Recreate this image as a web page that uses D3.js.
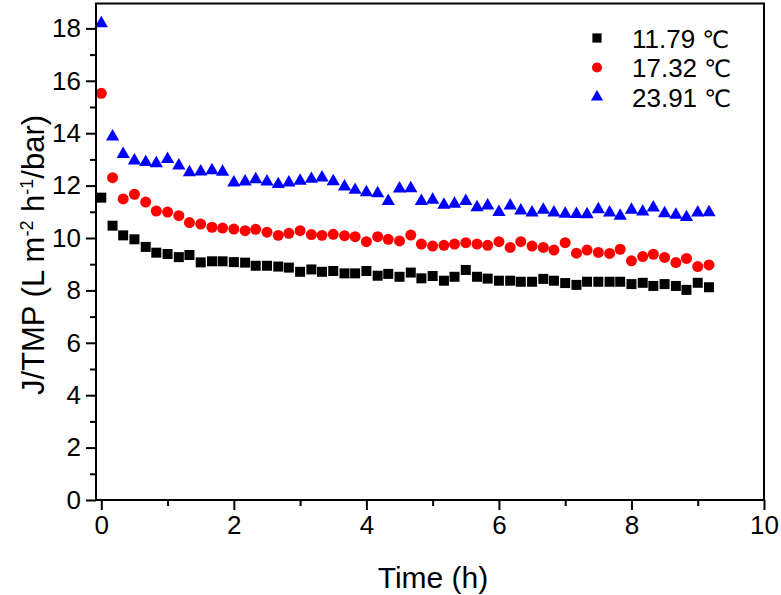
<!DOCTYPE html>
<html>
<head>
<meta charset="utf-8">
<script src="https://cdn.jsdelivr.net/npm/d3@7"></script>
<style>
  html, body { margin: 0; padding: 0; background: #fff; }
  svg { display: block; }
  text { font-family: "Liberation Sans", Arial, sans-serif; fill: #000; }
</style>
</head>
<body>
<svg id="chart" width="781" height="595"></svg>
<script>
// ---- data ----
const times = [0, 0.17, 0.33, 0.5, 0.67, 0.83, 1, 1.17, 1.33, 1.5, 1.67, 1.83, 2, 2.17, 2.33, 2.5, 2.67, 2.83,
  3, 3.17, 3.33, 3.5, 3.67, 3.83, 4, 4.17, 4.33, 4.5, 4.67, 4.83, 5, 5.17, 5.33, 5.5, 5.67, 5.83,
  6, 6.17, 6.33, 6.5, 6.67, 6.83, 7, 7.17, 7.33, 7.5, 7.67, 7.83, 8, 8.17, 8.33, 8.5, 8.67, 8.83, 9, 9.17];
const series1179 = [11.54, 10.47, 10.10, 9.95, 9.66, 9.44, 9.39, 9.27, 9.35, 9.07, 9.11, 9.11, 9.08, 9.06, 8.94, 8.94,
  8.91, 8.87, 8.71, 8.80, 8.71, 8.74, 8.65, 8.65, 8.74, 8.56, 8.63, 8.52, 8.68, 8.46, 8.55, 8.37, 8.52, 8.78,
  8.52, 8.45, 8.37, 8.37, 8.33, 8.33, 8.44, 8.37, 8.28, 8.21, 8.33, 8.33, 8.33, 8.33, 8.24, 8.29, 8.17, 8.24,
  8.17, 8.02, 8.29, 8.12];
const series1732 = [15.52, 12.30, 11.49, 11.67, 11.37, 11.03, 10.99, 10.85, 10.59, 10.53, 10.41, 10.38, 10.34, 10.28,
  10.33, 10.22, 10.10, 10.18, 10.28, 10.13, 10.10, 10.14, 10.09, 10.05, 9.86, 10.05, 9.95, 9.89, 10.11, 9.77,
  9.69, 9.72, 9.77, 9.82, 9.77, 9.72, 9.86, 9.64, 9.86, 9.69, 9.64, 9.54, 9.82, 9.42, 9.54, 9.45, 9.41, 9.57,
  9.13, 9.29, 9.38, 9.26, 9.06, 9.22, 8.91, 8.97];
const series2391 = [18.19, 13.87, 13.20, 12.95, 12.89, 12.85, 13.01, 12.76, 12.50, 12.53, 12.58, 12.52, 12.11, 12.15,
  12.24, 12.15, 12.05, 12.11, 12.18, 12.25, 12.30, 12.16, 11.96, 11.83, 11.74, 11.70, 11.41, 11.88, 11.89, 11.41,
  11.45, 11.26, 11.30, 11.41, 11.17, 11.23, 10.99, 11.23, 11.04, 10.97, 11.07, 10.97, 10.92, 10.91, 10.90, 11.09,
  10.97, 10.84, 11.07, 11.00, 11.16, 10.94, 10.88, 10.79, 10.97, 10.98];
const seriesNames = ["11.79", "17.32", "23.91"];
const xTickValues = [0, 2, 4, 6, 8, 10];
const yTickValues = [0, 2, 4, 6, 8, 10, 12, 14, 16, 18];
const xMinorTicks = [1, 3, 5, 7, 9];
const yMinorTicks = [1, 3, 5, 7, 9, 11, 13, 15, 17];

// ---- layout ----
const L = 96, R = 764, T = 3.5, B = 500;
const svg = d3.select("#chart");
const x = d3.scaleLinear().domain([-0.08, 10]).range([L, R]);
const y = d3.scaleLinear().domain([0, 18.95]).range([B, T]);

const seriesDefs = [
  { name: seriesNames[0], values: series1179, color: "#000000", symbol: d3.symbolSquare, size: 100 },
  { name: seriesNames[1], values: series1732, color: "#ff0000", symbol: d3.symbolCircle, size: 95 },
  { name: seriesNames[2], values: series2391, color: "#0000ff", symbol: d3.symbolTriangle, size: 76 }
];

// markers
seriesDefs.forEach(s => {
  const sym = d3.symbol().type(s.symbol).size(s.size);
  svg.append("g").selectAll("path").data(s.values).join("path")
    .attr("d", sym)
    .attr("transform", (d, i) => `translate(${x(times[i])},${y(d)})`)
    .attr("fill", s.color);
});

// axes
const axisStyle = g => {
  g.select(".domain").remove();
  g.selectAll("line").attr("stroke", "#000").attr("stroke-width", 2);
  g.selectAll("text").style("font-size", "26px").attr("fill", "#000");
};
svg.append("g").attr("transform", `translate(${L},0)`)
  .call(d3.axisLeft(y).tickValues(yTickValues).tickSize(10).tickPadding(5).tickFormat(d3.format("d")))
  .call(axisStyle);
svg.append("g").attr("transform", `translate(${L},0)`)
  .call(d3.axisLeft(y).tickValues(yMinorTicks).tickSize(6).tickFormat(""))
  .call(axisStyle);
svg.append("g").attr("transform", `translate(0,${B})`)
  .call(d3.axisBottom(x).tickValues(xTickValues).tickSize(10).tickPadding(6).tickFormat(d3.format("d")))
  .call(axisStyle);
svg.append("g").attr("transform", `translate(0,${B})`)
  .call(d3.axisBottom(x).tickValues(xMinorTicks).tickSize(6).tickFormat(""))
  .call(axisStyle);

// frame
svg.append("rect").attr("x", L).attr("y", T).attr("width", R - L).attr("height", B - T)
  .attr("fill", "none").attr("stroke", "#000").attr("stroke-width", 2);

// axis titles
svg.append("text").attr("x", 433).attr("y", 588).attr("text-anchor", "middle")
  .style("font-size", "30px").text("Time (h)");

const yl = svg.append("text").attr("transform", "translate(44,255) rotate(-90)")
  .attr("text-anchor", "middle").style("font-size", "31px");
yl.append("tspan").text("J/TMP (L m");
yl.append("tspan").attr("dy", -11).style("font-size", "18px").text("-2");
yl.append("tspan").attr("dy", 11).text(" h");
yl.append("tspan").attr("dy", -11).style("font-size", "18px").text("-1");
yl.append("tspan").attr("dy", 11).text("/bar)");

// legend
const legendY = [38, 67.5, 97];
seriesDefs.forEach((s, i) => {
  const sym = d3.symbol().type(s.symbol).size(s.size * 0.85);
  svg.append("path").attr("d", sym)
    .attr("transform", `translate(597,${legendY[i]})`).attr("fill", s.color);
  const t = svg.append("text").attr("x", 632).attr("y", legendY[i] + 9.5).style("font-size", "26px");
  t.append("tspan").text(s.name + " ");
  t.append("tspan").style("font-family", "'DejaVu Sans', sans-serif")
    .style("font-size", "24px").text("℃");
});
</script>
</body>
</html>
